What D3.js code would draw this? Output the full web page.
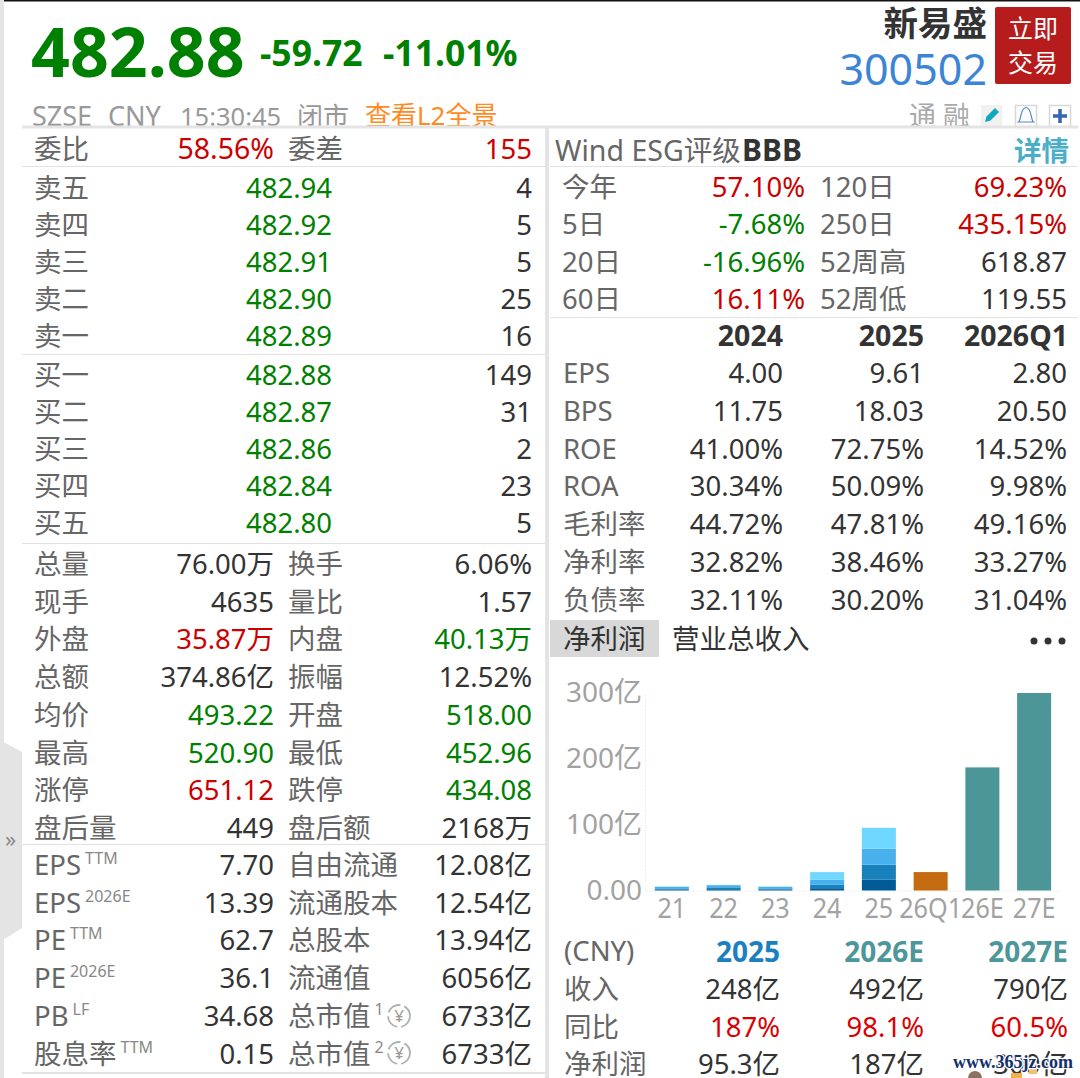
<!DOCTYPE html>
<html>
<head>
<meta charset="utf-8">
<script src="https://d3js.org/d3.v7.min.js"></script>
<style>
html, body { margin: 0; padding: 0; background: white; overflow: hidden; }
svg { display: block; }
text { font-family: "Noto Sans", "Noto Sans CJK SC", sans-serif; }
</style>
</head>
<body>
<svg width="1080" height="1078"></svg>
<script>
var svg = d3.select("svg");

var green = "#008000", red = "#cc0000", gray = "#666666", dark = "#333333", light = "#a2a2a2";
var fs = 27.5;

// order book
var askLabels = ["卖五", "卖四", "卖三", "卖二", "卖一"];
var askPrices = ["482.94", "482.92", "482.91", "482.90", "482.89"];
var askVols = ["4", "5", "5", "25", "16"];
var bidLabels = ["买一", "买二", "买三", "买四", "买五"];
var bidPrices = ["482.88", "482.87", "482.86", "482.84", "482.80"];
var bidVols = ["149", "31", "2", "23", "5"];

// quote table
var quoteLabelsA = ["总量", "现手", "外盘", "总额", "均价", "最高", "涨停", "盘后量"];
var quoteValuesA = ["76.00万", "4635", "35.87万", "374.86亿", "493.22", "520.90", "651.12", "449"];
var quoteColorsA = [dark, dark, red, dark, green, green, red, dark];
var quoteLabelsB = ["换手", "量比", "内盘", "振幅", "开盘", "最低", "跌停", "盘后额"];
var quoteValuesB = ["6.06%", "1.57", "40.13万", "12.52%", "518.00", "452.96", "434.08", "2168万"];
var quoteColorsB = [dark, dark, green, dark, green, green, green, dark];

// valuation table
var valLabels = ["EPS", "EPS", "PE", "PE", "PB", "股息率"];
var valSups = ["TTM", "2026E", "TTM", "2026E", "LF", "TTM"];
var valValues = ["7.70", "13.39", "62.7", "36.1", "34.68", "0.15"];
var capLabels = ["自由流通", "流通股本", "总股本", "流通值", "总市值", "总市值"];
var capSups = ["", "", "", "", "1", "2"];
var capValues = ["12.08亿", "12.54亿", "13.94亿", "6056亿", "6733亿", "6733亿"];

// returns
var retLabelsA = ["今年", "5日", "20日", "60日"];
var retValuesA = ["57.10%", "-7.68%", "-16.96%", "16.11%"];
var retColorsA = [red, green, green, red];
var retLabelsB = ["120日", "250日", "52周高", "52周低"];
var retValuesB = ["69.23%", "435.15%", "618.87", "119.55"];
var retColorsB = [red, red, dark, dark];

// financials
var finYears = ["2024", "2025", "2026Q1"];
var finLabels = ["EPS", "BPS", "ROE", "ROA", "毛利率", "净利率", "负债率"];
var fin2024 = ["4.00", "11.75", "41.00%", "30.34%", "44.72%", "32.82%", "32.11%"];
var fin2025 = ["9.61", "18.03", "72.75%", "50.09%", "47.81%", "38.46%", "30.20%"];
var fin2026 = ["2.80", "20.50", "14.52%", "9.98%", "49.16%", "33.27%", "31.04%"];

// chart, net profit in 亿 by quarter
var chartCats = ["21", "22", "23", "24", "25", "26Q1", "26E", "27E"];
var q1 = [1.2, 2, 1.2, 3.5, 16.3, 0, 0, 0];
var q2 = [2, 2.8, 2, 5.1, 22.9, 0, 0, 0];
var q3 = [2.3, 3.3, 2.3, 7.6, 24.5, 0, 0, 0];
var q4 = [0.5, 0.5, 0.5, 11.7, 31.6, 0, 0, 0];
var quarterOnly = [0, 0, 0, 0, 0, 28, 0, 0];
var estimates = [0, 0, 0, 0, 0, 0, 187, 300];
var yTicks = [0, 100, 200, 300];

// forecast table
var fcYears = ["2025", "2026E", "2027E"];
var fcYearColors = ["#1a80bf", "#4d9699", "#4d9699"];
var fcLabels = ["收入", "同比", "净利润"];
var fc2025 = ["248亿", "187%", "95.3亿"];
var fc2026 = ["492亿", "98.1%", "187亿"];
var fc2027 = ["790亿", "60.5%", "300亿"];
var fcColors = [dark, "#dd0000", dark];

function label(g, x, y, str, size, fill, anchor, weight) {
  return g.append("text")
    .attr("x", x).attr("y", y)
    .attr("font-size", size)
    .attr("fill", fill)
    .attr("text-anchor", anchor || "start")
    .attr("font-weight", weight || 400)
    .text(str);
}

// draws one text column, rows spaced evenly from y0
function column(x, y0, step, strs, fill, anchor) {
  svg.append("g").selectAll("text")
    .data(strs)
  .enter().append("text")
    .attr("x", x)
    .attr("y", function(d, i){ return y0 + i * step; })
    .attr("font-size", fs)
    .attr("text-anchor", anchor || "start")
    .attr("fill", function(d, i){ return Array.isArray(fill) ? fill[i] : fill; })
    .text(function(d){ return d; });
}

function rule(x1, x2, y, w, c) {
  svg.append("line").attr("x1", x1).attr("x2", x2).attr("y1", y).attr("y2", y)
    .attr("stroke", c || "#e2e2e2").attr("stroke-width", w || 1);
}

// header
var head = svg.append("g");
label(head, 31, 77, "482.88", 68, green, "start", 700);
label(head, 260, 66, "-59.72", 35.5, green, "start", 700);
label(head, 383, 66, "-11.01%", 35.5, green, "start", 700);
label(head, 32, 126, "SZSE", 27, "#999999");
label(head, 108, 126, "CNY", 27, "#999999");
label(head, 180, 126, "15:30:45", 25.5, "#999999");
label(head, 297, 126, "闭市", 26, "#999999");
label(head, 365, 125, "查看L2全景", 26, "#ff8a1f");
label(head, 987, 36, "新易盛", 34.5, dark, "end", 700);
label(head, 987, 85, "300502", 43, "#3c85d6", "end");
label(head, 970, 126, "通 融", 27, "#aaaaaa", "end");

head.append("rect").attr("x", 995).attr("y", 7).attr("width", 76).attr("height", 77)
  .attr("rx", 2).attr("fill", "#b71c1c");
label(head, 1033, 38, "立即", 25, "white", "middle");
label(head, 1033, 72, "交易", 25, "white", "middle");

// icons
head.append("rect").attr("x", 981).attr("y", 105).attr("width", 21).attr("height", 21).attr("fill", "#f1f1f1");
head.append("path").attr("d", "M985 122l1.5-5.500 8.500-8.500 4 4-8.500 8.500z").attr("fill", "#10a8c0");
head.append("rect").attr("x", 1015.500).attr("y", 105.500).attr("width", 21).attr("height", 21).attr("fill", "none").attr("stroke", "#d8d8d8").attr("stroke-width", 1.500);
head.append("path").attr("d", "M1018.500 122c3-2 1.500-14 7.500-14.500c6 0.500 4.500 12.500 7.500 14.500z").attr("fill", "white").attr("stroke", "#4a88d0").attr("stroke-width", 1.200);
head.append("rect").attr("x", 1049.500).attr("y", 105.500).attr("width", 21).attr("height", 21).attr("fill", "none").attr("stroke", "#d8d8d8").attr("stroke-width", 1.500);
head.append("path").attr("d", "M1060 109v14M1053 116h14").attr("stroke", "#3566b5").attr("stroke-width", 3.500);

// cover the clipped bottoms of the header text
svg.append("rect").attr("x", 0).attr("y", 127).attr("width", 1080).attr("height", 951).attr("fill", "white");

// frame
svg.append("rect").attr("x", 0).attr("y", 0).attr("width", 1080).attr("height", 1.500).attr("fill", "#111");
svg.append("rect").attr("x", 0).attr("y", 0).attr("width", 4).attr("height", 1078).attr("fill", "#e4e4e4");
svg.append("path").attr("d", "M0 740L22 752V928L0 942Z").attr("fill", "#e4e4e4");
label(svg, 5, 847, "»", 22, "#888888");
rule(22, 1078, 127, 3, "#e4e4e4");
svg.append("rect").attr("x", 545).attr("y", 128).attr("width", 4).attr("height", 950).attr("fill", "#e4e4e4");
rule(22, 545, 166.500);
rule(22, 545, 354.500);
rule(22, 545, 543.500);
rule(22, 545, 844.500);
rule(22, 545, 1073, 2);
rule(550, 1078, 166.500);
rule(550, 1078, 317.500);

// left side
label(svg, 34, 159, "委比", fs, gray);
label(svg, 274, 159, "58.56%", 28.5, red, "end");
label(svg, 288, 159, "委差", fs, gray);
label(svg, 532, 159, "155", fs, red, "end");

column(34, 198, 36.900, askLabels, gray);
column(332, 198, 36.900, askPrices, green, "end");
column(532, 198, 36.900, askVols, dark, "end");
column(34, 385, 37, bidLabels, gray);
column(332, 385, 37, bidPrices, green, "end");
column(532, 385, 37, bidVols, dark, "end");

column(34, 574, 37.700, quoteLabelsA, gray);
column(274, 574, 37.700, quoteValuesA, quoteColorsA, "end");
column(288, 574, 37.700, quoteLabelsB, gray);
column(532, 574, 37.700, quoteValuesB, quoteColorsB, "end");

// labels with a small superscript
function supColumn(x, y0, step, strs, sups) {
  svg.append("g").selectAll("text")
    .data(strs)
  .enter().append("text")
    .attr("x", x)
    .attr("y", function(d, i){ return y0 + i * step; })
    .attr("font-size", fs)
    .attr("fill", gray)
    .each(function(d, i) {
      var el = d3.select(this);
      el.append("tspan").text(d);
      el.append("tspan").attr("dx", 4).attr("dy", -11).attr("font-size", 16).attr("fill", "#888888").text(sups[i]);
    });
}

supColumn(34, 875, 37.700, valLabels, valSups);
column(274, 875, 37.700, valValues, dark, "end");
supColumn(288, 875, 37.700, capLabels, capSups);
column(532, 875, 37.700, capValues, dark, "end");

// small currency marks beside 总市值
[1016, 1053].forEach(function(cy) {
  svg.append("circle").attr("cx", 399).attr("cy", cy).attr("r", 11)
    .attr("fill", "none").attr("stroke", "#b0b0b0").attr("stroke-width", 1.800).attr("stroke-dasharray", "15 4");
  label(svg, 399, cy + 6, "¥", 17, "#999999", "middle");
});

// right side
label(svg, 555, 161, "Wind ESG评级", 28.5, gray);
label(svg, 742, 161, "BBB", 30, dark, "start", 700);
label(svg, 1069, 161, "详情", fs, "#4aaec9", "end", 700);

column(562, 197, 37.400, retLabelsA, gray);
column(805, 197, 37.400, retValuesA, retColorsA, "end");
column(820, 197, 37.400, retLabelsB, gray);
column(1067, 197, 37.400, retValuesB, retColorsB, "end");

label(svg, 783, 346, finYears[0], 28.5, dark, "end", 700);
label(svg, 924, 346, finYears[1], 28.5, dark, "end", 700);
label(svg, 1068, 346, finYears[2], 28.5, dark, "end", 700);
column(563, 383, 37.800, finLabels, gray);
column(783, 383, 37.800, fin2024, dark, "end");
column(924, 383, 37.800, fin2025, dark, "end");
column(1067, 383, 37.800, fin2026, dark, "end");

// tabs
svg.append("rect").attr("x", 550).attr("y", 620).attr("width", 109).attr("height", 37).attr("fill", "#d8d8d8");
label(svg, 563, 649, "净利润", fs, dark);
label(svg, 672, 649, "营业总收入", fs, dark);
svg.selectAll(".dot")
  .data([1034, 1048, 1062])
.enter().append("circle")
  .attr("class", "dot")
  .attr("cx", function(d){ return d; })
  .attr("cy", 641)
  .attr("r", 3.500)
  .attr("fill", dark);

// bar chart
var x = d3.scaleBand()
  .domain(chartCats)
  .range([646, 1060])
  .paddingInner(0.343)
  .paddingOuter(0.1715);

var y = d3.scaleLinear()
  .domain([0, 300])
  .range([890.500, 693]);

var axisY = svg.append("g")
  .attr("transform", "translate(645,0)")
  .call(d3.axisLeft(y).tickValues(yTicks).tickSize(0).tickPadding(3)
    .tickFormat(function(d){ return d === 0 ? "0.00" : d + "亿"; }));
var axisX = svg.append("g")
  .attr("transform", "translate(0,890.500)")
  .call(d3.axisBottom(x).tickSize(0).tickPadding(8));

[axisY, axisX].forEach(function(a) {
  a.select(".domain").attr("stroke", "#e4e4e4").attr("stroke-dasharray", "1 1.500");
  a.selectAll("text")
    .attr("font-size", 28)
    .attr("fill", light)
    .style("font-family", '"Noto Sans", "Noto Sans CJK SC", sans-serif');
});
// the category labels sit tight, narrow them so they just touch
axisX.selectAll("text").attr("transform", "scale(0.9,1)");

var stack = [
  { values: q1, color: "#005a96" },
  { values: q2, color: "#1880ba" },
  { values: q3, color: "#48b0ec" },
  { values: q4, color: "#70d8ff" },
  { values: quarterOnly, color: "#c46a10" },
  { values: estimates, color: "#4d9698" }
];

chartCats.forEach(function(cat, i) {
  var base = 0;
  stack.forEach(function(s) {
    var v = s.values[i];
    if (v > 0) {
      svg.append("rect")
        .attr("x", x(cat))
        .attr("width", x.bandwidth())
        .attr("y", y(base + v))
        .attr("height", y(base) - y(base + v))
        .attr("fill", s.color);
      base += v;
    }
  });
});

// forecast table
label(svg, 564, 961, "(CNY)", fs, gray);
fcYears.forEach(function(yr, i) {
  label(svg, [780, 924, 1068][i], 962, yr, 28, fcYearColors[i], "end", 700);
});
column(564, 999, 37.700, fcLabels, gray);
column(780, 999, 37.700, fc2025, fcColors, "end");
column(924, 999, 37.700, fc2026, fcColors, "end");
column(1068, 999, 37.700, fc2027, fcColors, "end");

// scraps of the picture under the watermark
svg.append("circle").attr("cx", 975).attr("cy", 1078).attr("r", 7).attr("fill", "#8a7360");
svg.append("rect").attr("x", 1011).attr("y", 1073).attr("width", 11).attr("height", 5).attr("fill", "#f2b04a");
svg.append("rect").attr("x", 1029).attr("y", 1069).attr("width", 8).attr("height", 5).attr("fill", "#f2c070");

// watermark
label(svg, 1073, 1068, "www.365jz.com", 18, "#12306a", "end", 700)
  .style("font-family", '"Liberation Serif", serif')
  .attr("stroke", "white").attr("stroke-width", 2.500).attr("paint-order", "stroke");
</script>
</body>
</html>
